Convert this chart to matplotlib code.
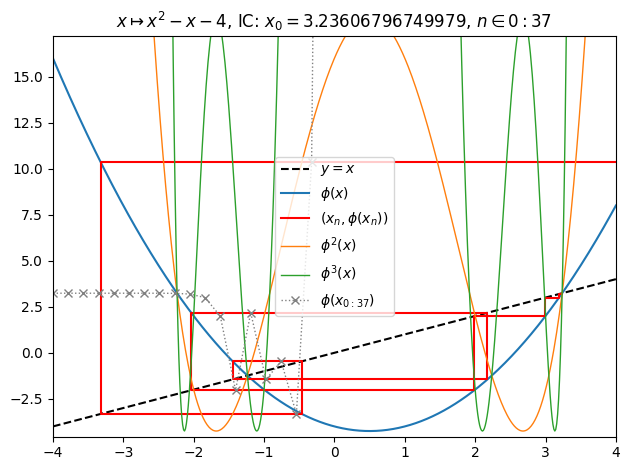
import numpy as np
import matplotlib
matplotlib.use("Agg")
import matplotlib.pyplot as plt

# map phi(x) = a*x^2 + b*x + c, initial condition and number of steps (from the title)
coef = [1.0, -1.0, -4.0]
x0 = 3.23606796749979
n_max = 37
x_range = [-4.0, 4.0]
y_range = [-4.55, 17.2]

def phi(x):
    return coef[0]*x*x + coef[1]*x + coef[2]

# orbit x_0 .. x_37
orbit = [x0]
with np.errstate(over='ignore', invalid='ignore'):
    for n in range(n_max):
        orbit.append(float(phi(np.float64(orbit[-1]))))
orbit = np.array(orbit)

# cobweb path
cx, cy = [orbit[0]], [orbit[0]]
for n in range(n_max):
    cx += [orbit[n], orbit[n+1]]
    cy += [orbit[n+1], orbit[n+1]]
cx = np.array(cx); cy = np.array(cy)

x = np.linspace(x_range[0], x_range[1], 600)

fig, ax = plt.subplots(figsize=(6.3, 4.7), dpi=100)
ax.plot(x, x, 'k--', label='$y = x$')
ax.plot(x, phi(x), color='C0', label=r'$\phi(x)$')
with np.errstate(over='ignore', invalid='ignore'):
    ax.plot(cx, cy, color='red', label=r'$(x_n, \phi(x_n))$')
ax.plot(x, phi(phi(x)), color='C1', lw=1, label=r'$\phi^2(x)$')
ax.plot(x, phi(phi(phi(x))), color='C2', lw=1, label=r'$\phi^3(x)$')
ax.plot(np.linspace(x_range[0], x_range[1], n_max+1), orbit, color='gray',
        ls=':', lw=1, marker='x', label=r'$\phi(x_{0:37})$')

ax.set_xlim(x_range)
ax.set_ylim(y_range)
ax.set_title(r'$x \mapsto x^2 - x - 4$, IC: $x_0 = 3.23606796749979$, $n \in 0:37$')
ax.legend(loc='center')
fig.tight_layout(pad=0.7)
fig.savefig('out.png')
